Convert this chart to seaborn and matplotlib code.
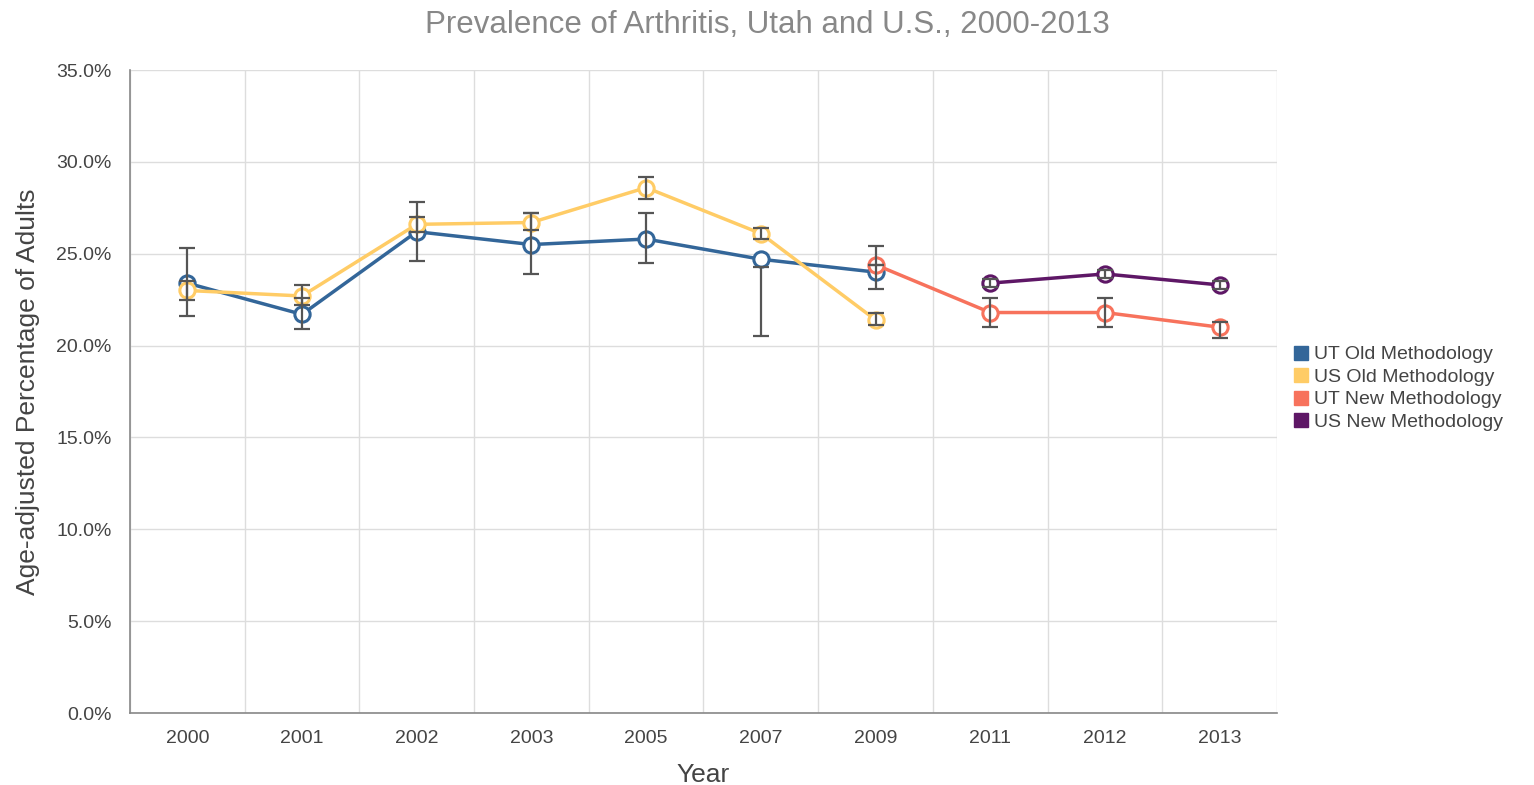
import numpy as np
import pandas as pd
import matplotlib
matplotlib.use("Agg")
import matplotlib.pyplot as plt
from matplotlib.lines import Line2D
from matplotlib.ticker import PercentFormatter
import seaborn as sns

sns.set_theme(style="white")
plt.rcParams['font.family'] = ['Liberation Sans', 'DejaVu Sans']

# Data
years = ["2000", "2001", "2002", "2003", "2005", "2007", "2009", "2011", "2012", "2013"]

ut_old_years = ["2000", "2001", "2002", "2003", "2005", "2007", "2009"]
ut_old = [23.4, 21.7, 26.2, 25.5, 25.8, 24.7, 24.0]
ut_old_lo = [21.6, 20.9, 24.6, 23.9, 24.5, 20.5, 23.1]
ut_old_hi = [25.3, 22.6, 27.8, 27.2, 27.2, 24.3, 25.4]

us_old_years = ["2000", "2001", "2002", "2003", "2005", "2007", "2009"]
us_old = [23.0, 22.7, 26.6, 26.7, 28.6, 26.1, 21.4]
us_old_lo = [22.5, 22.2, 26.2, 26.3, 28.0, 25.8, 21.1]
us_old_hi = [23.5, 23.3, 27.0, 27.2, 29.2, 26.4, 21.8]

ut_new_years = ["2009", "2011", "2012", "2013"]
ut_new = [24.4, 21.8, 21.8, 21.0]
ut_new_lo = [24.4, 21.0, 21.0, 20.4]
ut_new_hi = [24.4, 22.6, 22.6, 21.3]

us_new_years = ["2011", "2012", "2013"]
us_new = [23.4, 23.9, 23.3]
us_new_lo = [23.2, 23.7, 23.1]
us_new_hi = [23.6, 24.1, 23.5]

series = [
    ("UT Old Methodology", ut_old_years, ut_old, ut_old_lo, ut_old_hi, "#336699"),
    ("US Old Methodology", us_old_years, us_old, us_old_lo, us_old_hi, "#ffcc66"),
    ("UT New Methodology", ut_new_years, ut_new, ut_new_lo, ut_new_hi, "#f7725c"),
    ("US New Methodology", us_new_years, us_new, us_new_lo, us_new_hi, "#5e1766"),
]

fig = plt.figure(figsize=(15.34, 7.85), dpi=100)
ax = fig.add_axes([0.0847, 0.0917, 0.7478, 0.8191])

# register the category order first
ax.plot(years, [np.nan] * len(years))

draw_order = [1, 0, 2, 3]
for i in draw_order:
    name, yrs, vals, lo, hi, col = series[i]
    df = pd.DataFrame({"year": yrs, "value": vals})
    sns.lineplot(data=df, x="year", y="value", ax=ax, color=col, lw=2.5,
                 marker="o", markersize=11, markerfacecolor="white",
                 markeredgecolor=col, markeredgewidth=2.2, zorder=3 + i)

# error bars (drawn from low/high arrays)
for name, yrs, vals, lo, hi, col in series:
    ax.vlines(yrs, lo, hi, color="#555555", lw=1.6, zorder=10)
    ax.scatter(yrs, lo, marker="_", s=120, color="#555555", linewidths=1.6, zorder=10)
    ax.scatter(yrs, hi, marker="_", s=120, color="#555555", linewidths=1.6, zorder=10)

ax.set_xlim(-0.5, len(years) - 0.5)
ax.set_ylim(0, 35)
ax.set_yticks(np.arange(0, 36, 5))
ax.yaxis.set_major_formatter(PercentFormatter(decimals=1))
ax.set_xticks(np.arange(len(years)))
ax.set_xticks(np.arange(-0.5, len(years)), minor=True)
ax.tick_params(axis="x", which="major", length=0, labelsize=14, colors="#444444", pad=12)
ax.tick_params(axis="x", which="minor", length=7, width=1, color="#888888", direction="out")
ax.tick_params(axis="y", which="major", length=7, width=1, color="#888888",
               labelsize=14, labelcolor="#444444", pad=6)
ax.grid(False)
ax.grid(axis="x", which="minor", color="#dddddd", lw=1)
ax.grid(axis="y", which="major", color="#dddddd", lw=1)
ax.set_axisbelow(True)
for s in ["top", "right"]:
    ax.spines[s].set_visible(False)
for s in ["left", "bottom"]:
    ax.spines[s].set_color("#888888")
    ax.spines[s].set_linewidth(1.2)

ax.set_xlabel("Year", fontsize=19, color="#444444", labelpad=12)
ax.set_ylabel("Age-adjusted Percentage of Adults", fontsize=19, color="#444444", labelpad=12)
fig.suptitle("Prevalence of Arthritis, Utah and U.S., 2000-2013", fontsize=22.5,
             color="#888888", x=0.5, y=0.987)

handles = [Line2D([0], [0], marker="s", color="w", markerfacecolor=c, markeredgecolor=c,
                  markersize=10, label=n) for n, _, _, _, _, c in series]
leg = ax.legend(handles=handles, loc="center left", bbox_to_anchor=(0.997, 0.505),
                frameon=False, fontsize=14, handletextpad=0.2, labelspacing=0.25,
                handlelength=1.0)
for t in leg.get_texts():
    t.set_color("#444444")

fig.savefig("out.png", dpi=100)
